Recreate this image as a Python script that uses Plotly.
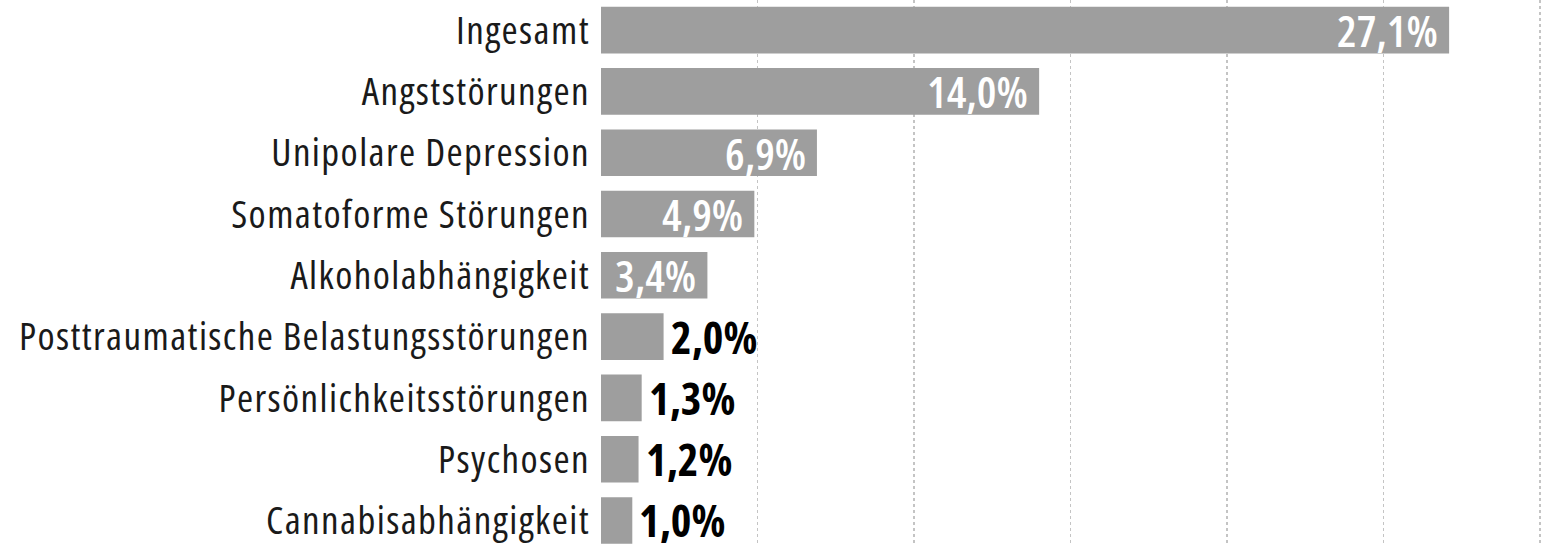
import plotly.graph_objects as go

categories = [
    "Ingesamt",
    "Angststörungen",
    "Unipolare Depression",
    "Somatoforme Störungen",
    "Alkoholabhängigkeit",
    "Posttraumatische Belastungsstörungen",
    "Persönlichkeitsstörungen",
    "Psychosen",
    "Cannabisabhängigkeit",
]
values = [27.1, 14.0, 6.9, 4.9, 3.4, 2.0, 1.3, 1.2, 1.0]
value_labels = ["27,1%", "14,0%", "6,9%", "4,9%", "3,4%", "2,0%", "1,3%", "1,2%", "1,0%"]

FONT = "Open Sans, DejaVu Sans Condensed, sans-serif"
BAR_COLOR = "#9e9e9e"

fig = go.Figure(
    go.Bar(
        x=values,
        y=categories,
        orientation="h",
        marker=dict(color=BAR_COLOR, line=dict(width=0)),
        width=0.76,
        hoverinfo="skip",
    )
)

def styled(t, style):
    return '<span style="' + style + '">' + t + "</span>"

annotations = []
for cat, v, lab in zip(categories, values, value_labels):
    inside = v >= 3
    annotations.append(
        dict(
            x=v,
            y=cat,
            xref="x",
            yref="y",
            text=styled(lab, "font-stretch:condensed"),
            showarrow=False,
            xanchor="right" if inside else "left",
            xshift=-9 if inside else 5,
            font=dict(
                family=FONT,
                size=44,
                color="white" if inside else "black",
                weight=600 if inside else 700,
            ),
        )
    )

fig.update_layout(
    width=1543,
    height=545,
    margin=dict(l=601, r=0, t=0, b=0, autoexpand=False),
    paper_bgcolor="white",
    plot_bgcolor="white",
    showlegend=False,
    annotations=annotations,
    xaxis=dict(
        range=[0, 30.1],
        tickvals=[0, 5, 10, 15, 20, 25, 30],
        showticklabels=False,
        showgrid=True,
        gridcolor="#c4c4c4",
        gridwidth=1.5,
        griddash="3px,3px",
        zeroline=False,
        showline=False,
        fixedrange=True,
        automargin=False,
    ),
    yaxis=dict(
        type="category",
        categoryorder="array",
        categoryarray=categories,
        tickvals=categories,
        ticktext=[styled(c, "font-stretch:condensed;letter-spacing:1.4px") for c in categories],
        range=[8.40, -0.491],
        showgrid=False,
        zeroline=False,
        showline=False,
        ticks="",
        ticklabelstandoff=10,
        tickfont=dict(family=FONT, size=39, color="#1a1a1a"),
        fixedrange=True,
        automargin=False,
    ),
)

fig.write_html(
    "out.html",
    config={"displayModeBar": False, "staticPlot": True},
    post_script="document.body.style.margin='0px';document.body.style.overflow='hidden';",
)
